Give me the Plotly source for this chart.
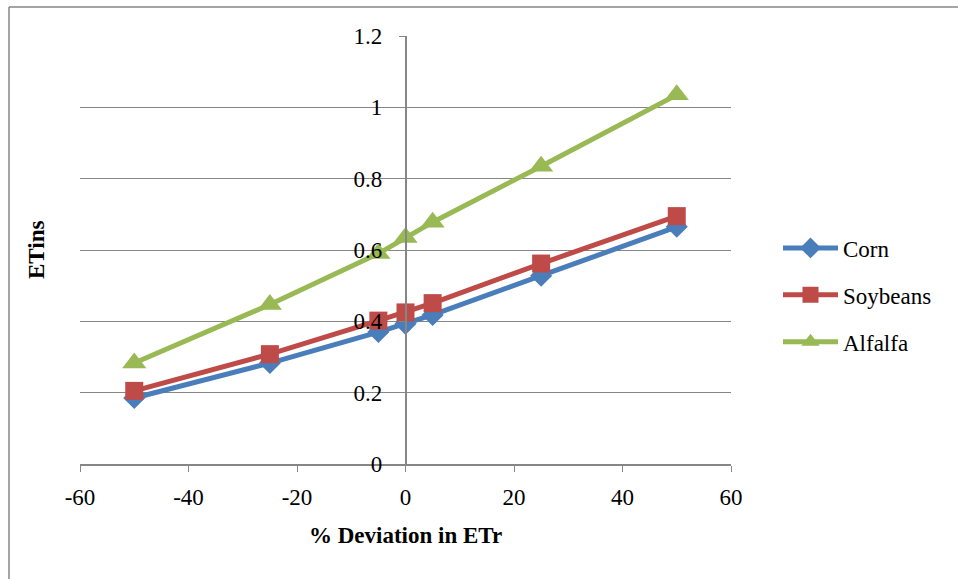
import plotly.graph_objects as go

# Percent deviation in reference ET and resulting ETins per crop
deviation = [-50, -25, -5, 0, 5, 25, 50]
corn = [0.185, 0.283, 0.370, 0.393, 0.418, 0.528, 0.665]
soybeans = [0.205, 0.308, 0.402, 0.425, 0.451, 0.562, 0.695]
alfalfa = [0.283, 0.447, 0.590, 0.635, 0.678, 0.835, 1.035]

x_ticks = [-60, -40, -20, 0, 20, 40, 60]
x_tick_text = ["-60", "-40", "-20", "0", "20", "40", "60"]
y_ticks = [0, 0.2, 0.4, 0.6, 0.8, 1.0, 1.2]
y_tick_text = ["0", "0.2", "0.4", "0.6", "0.8", "1", "1.2"]

FONT = "'Liberation Serif', 'Times New Roman', Times, serif"
GRID = "#868686"

series = [
    ("Corn", corn, "#4A7EBB", "diamond", 17),
    ("Soybeans", soybeans, "#BE4B48", "square", 18),
    ("Alfalfa", alfalfa, "#98B954", "triangle-up", 21),
]

fig = go.Figure()
for name, vals, color, symbol, size in series:
    fig.add_trace(go.Scatter(
        x=deviation, y=vals, name=name, mode="lines+markers",
        legendgroup=name,
        line=dict(color=color, width=5),
        marker=dict(symbol=symbol, size=size, color=color, line=dict(width=0)),
    ))

W, H = 958, 579
L, R, T, B = 80, 227, 36, 115
pw, ph = W - L - R, H - T - B


def px_x(p):
    return (p - L) / pw


def px_y(p):
    return (H - B - p) / ph


tick_font = dict(family=FONT, size=23, color="black")

fig.update_layout(
    width=W, height=H,
    margin=dict(l=L, r=R, t=T, b=B),
    paper_bgcolor="white", plot_bgcolor="white",
    font=dict(family=FONT, size=23, color="black"),
    showlegend=True,
    legend=dict(
        x=px_x(778), y=px_y(295), xanchor="left", yanchor="middle",
        font=dict(family=FONT, size=23, color="black"),
        tracegroupgap=14, itemwidth=55, bgcolor="rgba(0,0,0,0)",
    ),
    xaxis=dict(
        range=[-60, 60], tickvals=x_ticks, ticktext=x_tick_text,
        showgrid=False, zeroline=False,
        showline=True, linecolor=GRID, linewidth=1.5,
        ticks="outside", ticklen=6, tickcolor=GRID, tickwidth=1,
        ticklabelstandoff=6,
        tickfont=tick_font,
    ),
    yaxis=dict(
        range=[0, 1.2], tickvals=y_ticks, ticktext=y_tick_text,
        anchor="free", position=0.5,
        showgrid=True, gridcolor=GRID, gridwidth=1.2,
        zeroline=False,
        showline=True, linecolor=GRID, linewidth=1.5,
        ticks="outside", ticklen=6, tickcolor=GRID, tickwidth=1,
        ticklabelstandoff=12,
        tickfont=tick_font,
    ),
    annotations=[
        dict(text="<b>% Deviation in ETr</b>", xref="paper", yref="paper",
             x=0.5, y=px_y(535), xanchor="center", yanchor="middle",
             showarrow=False, font=dict(family=FONT, size=23, color="black")),
        dict(text="<b>ETins</b>", xref="paper", yref="paper",
             x=px_x(36), y=0.5, xanchor="center", yanchor="middle",
             textangle=-90, showarrow=False,
             font=dict(family=FONT, size=23, color="black")),
    ],
    shapes=[
        # outer chart frame (left and top edges)
        dict(type="line", xref="paper", yref="paper",
             x0=px_x(9), x1=px_x(W + 5), y0=px_y(7), y1=px_y(7),
             line=dict(color=GRID, width=1.5)),
        dict(type="line", xref="paper", yref="paper",
             x0=px_x(9), x1=px_x(9), y0=px_y(7), y1=px_y(H + 5),
             line=dict(color=GRID, width=1.5)),
    ],
)

fig.write_html("out.html")
